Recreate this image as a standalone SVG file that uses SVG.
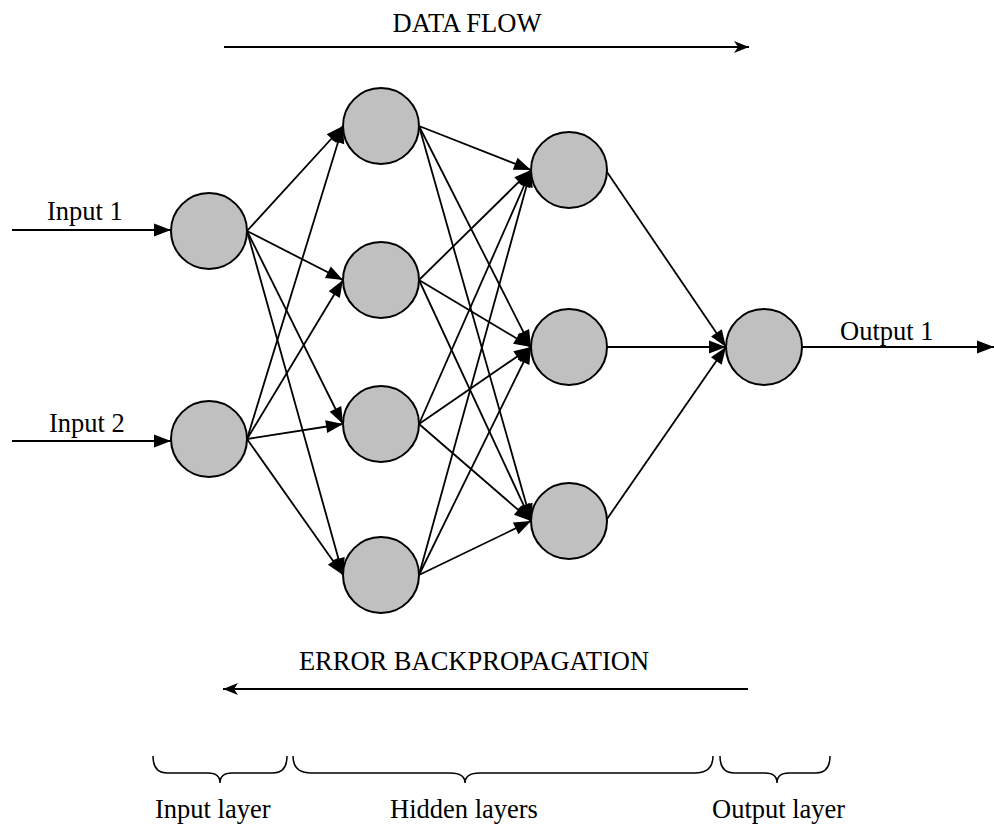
<svg xmlns="http://www.w3.org/2000/svg" width="994" height="828" viewBox="0 0 994 828">
  <style>
    .node circle { fill: #c0c0c0; stroke: #000; stroke-width: 2; }
    .edge { stroke: #000; stroke-width: 1.8; fill: none; }
    .io { stroke: #000; stroke-width: 2.2; fill: none; }
    .brace { stroke: #000; stroke-width: 1.5; fill: none; }
    text { font-family: "Liberation Serif", "Times New Roman", serif; font-size: 26.5px; fill: #000; }
  </style>
  <defs>
    <marker id="head" markerUnits="userSpaceOnUse" markerWidth="17" markerHeight="13" refX="17" refY="6.5" orient="auto" overflow="visible">
      <path d="M0,0 L17,6.5 L0,13 z" fill="#000"/>
    </marker>
    <marker id="stealth" markerUnits="userSpaceOnUse" markerWidth="15" markerHeight="12" refX="15" refY="6" orient="auto" overflow="visible">
      <path d="M0,0 L15,6 L0,12 L4,6 z" fill="#000"/>
    </marker>
  </defs>

  <!-- flow direction arrows -->
  <g id="data-flow">
    <line class="io" x1="224" y1="47" x2="749" y2="47" marker-end="url(#stealth)"/>
    <text x="467" y="32" text-anchor="middle" font-size="28">DATA FLOW</text>
  </g>
  <g id="error-backprop">
    <line class="io" x1="748" y1="689" x2="223" y2="689" marker-end="url(#stealth)"/>
    <text x="474" y="670" text-anchor="middle">ERROR BACKPROPAGATION</text>
  </g>

  <!-- connectors -->
  <g id="connectors">
    <!-- external input / output -->
    <line class="io" x1="12" y1="230" x2="171" y2="230" marker-end="url(#head)"/>
    <line class="io" x1="12" y1="441" x2="171" y2="441" marker-end="url(#head)"/>
    <line class="io" x1="802" y1="347" x2="994" y2="347" marker-end="url(#head)"/>

    <!-- input layer to hidden layer 1 -->
    <line class="edge" x1="247" y1="231" x2="343" y2="126" marker-end="url(#head)"/>
    <line class="edge" x1="247" y1="231" x2="343" y2="280" marker-end="url(#head)"/>
    <line class="edge" x1="247" y1="231" x2="343" y2="424" marker-end="url(#head)"/>
    <line class="edge" x1="247" y1="231" x2="343" y2="575" marker-end="url(#head)"/>
    <line class="edge" x1="247" y1="439" x2="343" y2="126" marker-end="url(#head)"/>
    <line class="edge" x1="247" y1="439" x2="343" y2="280" marker-end="url(#head)"/>
    <line class="edge" x1="247" y1="439" x2="343" y2="424" marker-end="url(#head)"/>
    <line class="edge" x1="247" y1="439" x2="343" y2="575" marker-end="url(#head)"/>

    <!-- hidden layer 1 to hidden layer 2 -->
    <line class="edge" x1="419" y1="126" x2="531" y2="170" marker-end="url(#head)"/>
    <line class="edge" x1="419" y1="126" x2="531" y2="347" marker-end="url(#head)"/>
    <line class="edge" x1="419" y1="126" x2="531" y2="521" marker-end="url(#head)"/>
    <line class="edge" x1="419" y1="280" x2="531" y2="170" marker-end="url(#head)"/>
    <line class="edge" x1="419" y1="280" x2="531" y2="347" marker-end="url(#head)"/>
    <line class="edge" x1="419" y1="280" x2="531" y2="521" marker-end="url(#head)"/>
    <line class="edge" x1="419" y1="424" x2="531" y2="170" marker-end="url(#head)"/>
    <line class="edge" x1="419" y1="424" x2="531" y2="347" marker-end="url(#head)"/>
    <line class="edge" x1="419" y1="424" x2="531" y2="521" marker-end="url(#head)"/>
    <line class="edge" x1="419" y1="575" x2="531" y2="170" marker-end="url(#head)"/>
    <line class="edge" x1="419" y1="575" x2="531" y2="347" marker-end="url(#head)"/>
    <line class="edge" x1="419" y1="575" x2="531" y2="521" marker-end="url(#head)"/>

    <!-- hidden layer 2 to output -->
    <line class="edge" x1="607" y1="172" x2="726" y2="347" marker-end="url(#head)"/>
    <line class="edge" x1="607" y1="347" x2="726" y2="347" marker-end="url(#head)"/>
    <line class="edge" x1="607" y1="519" x2="726" y2="347" marker-end="url(#head)"/>
  </g>

  <!-- input layer -->
  <g id="in1" class="node"><circle cx="209" cy="231" r="38"/></g>
  <g id="in2" class="node"><circle cx="209" cy="439" r="38"/></g>

  <!-- hidden layer 1 -->
  <g id="h1a" class="node"><circle cx="381" cy="126" r="38"/></g>
  <g id="h1b" class="node"><circle cx="381" cy="280" r="38"/></g>
  <g id="h1c" class="node"><circle cx="381" cy="424" r="38"/></g>
  <g id="h1d" class="node"><circle cx="381" cy="575" r="38"/></g>

  <!-- hidden layer 2 -->
  <g id="h2a" class="node"><circle cx="569" cy="170" r="38"/></g>
  <g id="h2b" class="node"><circle cx="569" cy="347" r="38"/></g>
  <g id="h2c" class="node"><circle cx="569" cy="521" r="38"/></g>

  <!-- output layer -->
  <g id="out1" class="node"><circle cx="764" cy="347" r="38"/></g>

  <!-- io labels -->
  <g id="labels">
    <text x="47" y="220">Input 1</text>
    <text x="49" y="432">Input 2</text>
    <text x="840" y="340">Output 1</text>
  </g>

  <!-- layer braces -->
  <g id="layer-braces">
    <path class="brace" d="M153,756 Q153,773 167,773 L208,773 Q220,773 220,783 Q220,773 232,773 L273,773 Q287,773 287,756"/>
    <path class="brace" d="M293,756 Q293,773 311,773 L450,773 Q465,773 465,783 Q465,773 480,773 L695,773 Q713,773 713,756"/>
    <path class="brace" d="M720,756 Q720,773 734,773 L765,773 Q777,773 777,783 Q777,773 789,773 L816,773 Q830,773 830,756"/>
    <text x="155" y="818">Input layer</text>
    <text x="390" y="818">Hidden layers</text>
    <text x="712" y="818">Output layer</text>
  </g>
</svg>
